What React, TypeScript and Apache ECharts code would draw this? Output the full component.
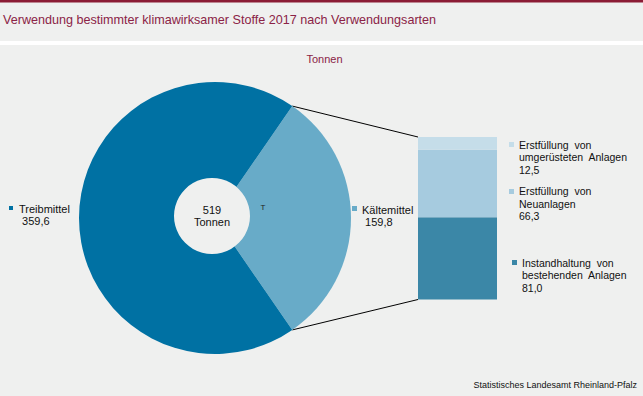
import React, { useEffect, useRef } from 'react';
import * as echarts from 'echarts';

const titleText = 'Verwendung bestimmter klimawirksamer Stoffe 2017 nach Verwendungsarten';
const unitText = 'Tonnen';
const sourceText = 'Statistisches Landesamt Rheinland-Pfalz';
const totalText = '519';
const pieNames = ['Kältemittel', 'Treibmittel'];
const pieValues = [159.8, 359.6];
const pieValueLabels = ['159,8', '359,6'];
const barNames = ['Instandhaltung  von\nbestehenden  Anlagen', 'Erstfüllung  von\nNeuanlagen', 'Erstfüllung  von\numgerüsteten  Anlagen'];
const barValues = [81.0, 66.3, 12.5];
const barValueLabels = ['81,0', '66,3', '12,5'];

// styles / layout (not data)
const BG = '#eff0ef';
const MAROON = '#8b1c35';
const pieColors = ['#68abc8', '#0071a3'];
const barColors = ['#3b87a7', '#a6cbdf', '#c5dde9'];
const FONT = '"Liberation Sans", Arial, sans-serif';
const PIE_CX = 215, PIE_CY = 218, PIE_R = 136;
const HOLE = { cx: 212, cy: 216, r: 38 };
const BAR = { left: 418, top: 137, width: 79, height: 162.5 };
const pieLabelPos = [
  { mx: 352, my: 206, ms: 5, tx: 362, ty: 209.5 },
  { mx: 9, my: 206, ms: 4, tx: 19, ty: 209 },
];
const barLabelPos = [
  { mx: 512, my: 260, tx: 522, ty: 262.7 },
  { mx: 509, my: 189, tx: 519, ty: 191.3 },
  { mx: 509, my: 142, tx: 519, ty: 144.5 },
];
const LH = 12.5;

function labelGroup(mx: number, my: number, ms: number, color: string, tx: number, ty: number, text: string, size: number, lh: number) {
  return [
    { type: 'rect', shape: { x: mx, y: my, width: ms, height: ms }, style: { fill: color }, silent: true },
    {
      type: 'text', x: tx, y: ty - lh / 2, silent: true,
      style: { text, fontSize: size, fontFamily: FONT, fill: '#111', textAlign: 'left', textVerticalAlign: 'top', lineHeight: lh },
    },
  ];
}

export default function App() {
  const ref = useRef<HTMLDivElement>(null);
  useEffect(() => {
    if (!ref.current) return;
    const chart = echarts.init(ref.current, undefined, { renderer: 'svg' });
    const pieTotal = pieValues.reduce((a, b) => a + b, 0);
    const barTotal = barValues.reduce((a, b) => a + b, 0);
    const half = (pieValues[0] / pieTotal) * 360 / 2;
    const a = (half * Math.PI) / 180;
    const px = PIE_CX + PIE_R * Math.cos(a);
    const pyTop = PIE_CY - PIE_R * Math.sin(a);
    const pyBot = PIE_CY + PIE_R * Math.sin(a);

    const graphics: any[] = [
      { type: 'rect', shape: { x: 0, y: 0, width: 643, height: 2.5 }, style: { fill: MAROON }, silent: true },
      { type: 'rect', shape: { x: 0, y: 41, width: 643, height: 4 }, style: { fill: '#ffffff' }, silent: true },
      { type: 'text', x: 3, y: 20, silent: true, style: { text: titleText, fontSize: 12.6, fontFamily: FONT, fill: '#8b2346', textVerticalAlign: 'middle' } },
      { type: 'text', x: 324.5, y: 59, silent: true, style: { text: unitText, fontSize: 11, fontFamily: FONT, fill: '#8b2346', textAlign: 'center', textVerticalAlign: 'middle' } },
      { type: 'text', x: 637, y: 385, silent: true, style: { text: sourceText, fontSize: 9, fontFamily: FONT, fill: '#111', textAlign: 'right', textVerticalAlign: 'middle' } },
      { type: 'circle', shape: { cx: HOLE.cx, cy: HOLE.cy, r: HOLE.r }, style: { fill: BG }, silent: true, z: 10 },
      { type: 'text', x: HOLE.cx, y: 216, silent: true, z: 11, style: { text: totalText + '\n' + unitText, fontSize: 11, fontFamily: FONT, fill: '#111', textAlign: 'center', textVerticalAlign: 'middle', lineHeight: 12.5 } },
      { type: 'text', x: 263, y: 207, silent: true, z: 11, style: { text: 'T', fontSize: 8, fontFamily: FONT, fill: '#222', textAlign: 'center', textVerticalAlign: 'middle' } },
      { type: 'line', shape: { x1: px, y1: pyTop, x2: BAR.left, y2: BAR.top }, style: { stroke: '#000', lineWidth: 1 }, silent: true },
      { type: 'line', shape: { x1: px, y1: pyBot, x2: BAR.left, y2: BAR.top + BAR.height }, style: { stroke: '#000', lineWidth: 1 }, silent: true },
    ];
    pieNames.forEach((n, i) => {
      const p = pieLabelPos[i];
      graphics.push(...labelGroup(p.mx, p.my, p.ms, pieColors[i], p.tx, p.ty, n + '\n ' + pieValueLabels[i], 11, 12));
    });
    barNames.forEach((n, i) => {
      const p = barLabelPos[i];
      graphics.push(...labelGroup(p.mx, p.my, 5, barColors[i], p.tx, p.ty, n + '\n' + barValueLabels[i], 10.5, LH));
    });

    chart.setOption({
      animation: false,
      backgroundColor: BG,
      grid: { left: BAR.left, top: BAR.top, width: BAR.width, height: BAR.height, containLabel: false },
      xAxis: { type: 'category', data: ['Kältemittel'], show: false },
      yAxis: { type: 'value', min: 0, max: barTotal, show: false },
      series: [
        {
          type: 'pie', center: [PIE_CX, PIE_CY], radius: [0, PIE_R], startAngle: half, clockwise: true,
          silent: true, label: { show: false }, labelLine: { show: false }, emphasis: { disabled: true },
          data: pieNames.map((n, i) => ({ name: n, value: pieValues[i], itemStyle: { color: pieColors[i] } })),
        },
        ...barNames.map((n, i) => ({
          type: 'bar', name: n, stack: 'total', barWidth: '100%', silent: true,
          itemStyle: { color: barColors[i] }, emphasis: { disabled: true },
          data: [barValues[i]],
        })),
      ],
      graphic: graphics,
    });
    return () => chart.dispose();
  }, []);
  return <div ref={ref} style={{ position: 'absolute', left: 0, top: 0, width: 643, height: 396 }} />;
}
